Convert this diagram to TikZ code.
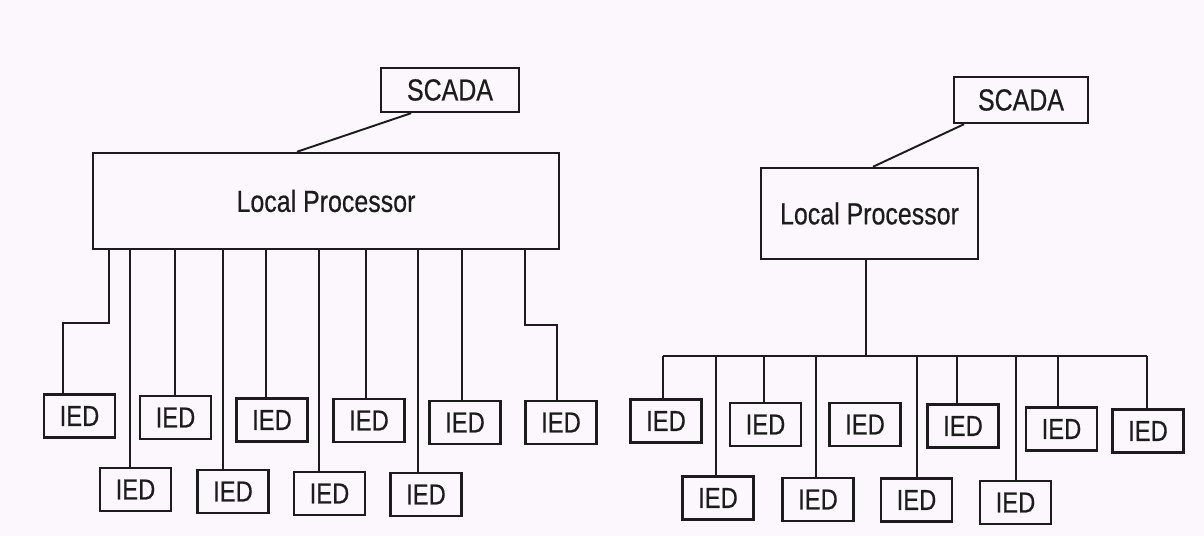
\documentclass[tikz,border=0pt]{standalone}
\usepackage{fontspec}
\setmainfont[FakeBold=0.5]{Liberation Sans}
\usetikzlibrary{positioning}
\definecolor{paper}{RGB}{252,247,252}
\definecolor{ink}{RGB}{28,28,28}
\newcommand{\tall}[1]{\scalebox{1}[1.22]{#1}}

\begin{document}
\begin{tikzpicture}[
  x=0.02cm, y=-0.02cm,
  box/.style={draw=ink, line width=1.4pt, inner sep=0pt, text=ink,
    font=\fontsize{14.2}{16}\selectfont},
  ied/.style={box, minimum width=1.42cm, minimum height=0.86cm,
    font=\fontsize{13.5}{15}\selectfont},
  wire/.style={draw=ink, line width=1.1pt}
]
\fill[paper] (0,0) rectangle (1204,536);
\useasboundingbox (0,0) rectangle (1204,536);

% left: one wide processor, every IED wired on its own
\node[box, minimum width=2.76cm, minimum height=0.88cm] (scA) at (450,90) {\tall{SCADA}};
\node[box, minimum width=9.32cm, minimum height=1.92cm] (lpA) at (326,201) {\tall{Local Processor}};

\foreach \nm/\x/\y in {ta1/79.5/416, ta2/175.5/417.5, ta3/272/420, ta4/369/420.5,
    ta5/465/422.5, ta6/561/422.5, tb1/135.5/489.5, tb2/233/491.5,
    tb3/329.5/493.5, tb4/426/494.5} {
  \node[ied] (\nm) at (\x,\y) {\tall{IED}};
}

\draw[wire] (scA.south -| 411,0) -- (lpA.north -| 297,0);

\foreach \nm/\x in {tb1/130, ta2/175, tb2/223, ta3/266, tb3/319, ta4/366,
    tb4/418, ta5/462} {
  \draw[wire] (lpA.south -| \x,0) -- (\nm.north -| \x,0);
}
\draw[wire] (lpA.south -| 109,0) |- (63,323) -- (ta1.north -| 63,0);
\draw[wire] (lpA.south -| 525,0) |- (557,325) -- (ta6.north -| 557,0);

% right: small processor feeding a common bus
\node[box, minimum width=2.68cm, minimum height=0.92cm] (scB) at (1021,100) {\tall{SCADA}};
\node[box, minimum width=4.34cm, minimum height=1.82cm] (lpB) at (869.5,213.5) {\tall{Local Processor}};

\foreach \nm/\x/\y in {ra1/666/421, ra2/765.5/424.5, ra3/865/424.5, ra4/963/426,
    ra5/1061.5/429, ra6/1148/431, rb1/718/498, rb2/818/499.5,
    rb3/916.5/500, rb4/1015.5/502.5} {
  \node[ied] (\nm) at (\x,\y) {\tall{IED}};
}

\draw[wire] (scB.south -| 964,0) -- (lpB.north -| 873,0);

\coordinate (busL) at (663,356);
\coordinate (busR) at (1147,356);
\draw[wire] (busL) -- (busR);
\draw[wire] (lpB.south -| 866,0) -- (busL -| 866,0);

\foreach \nm/\x in {ra1/663, rb1/716, ra2/764, rb2/816, rb3/917, ra4/957,
    rb4/1016, ra5/1058, ra6/1147} {
  \draw[wire] (busL -| \x,0) -- (\nm.north -| \x,0);
}

\end{tikzpicture}
\end{document}
